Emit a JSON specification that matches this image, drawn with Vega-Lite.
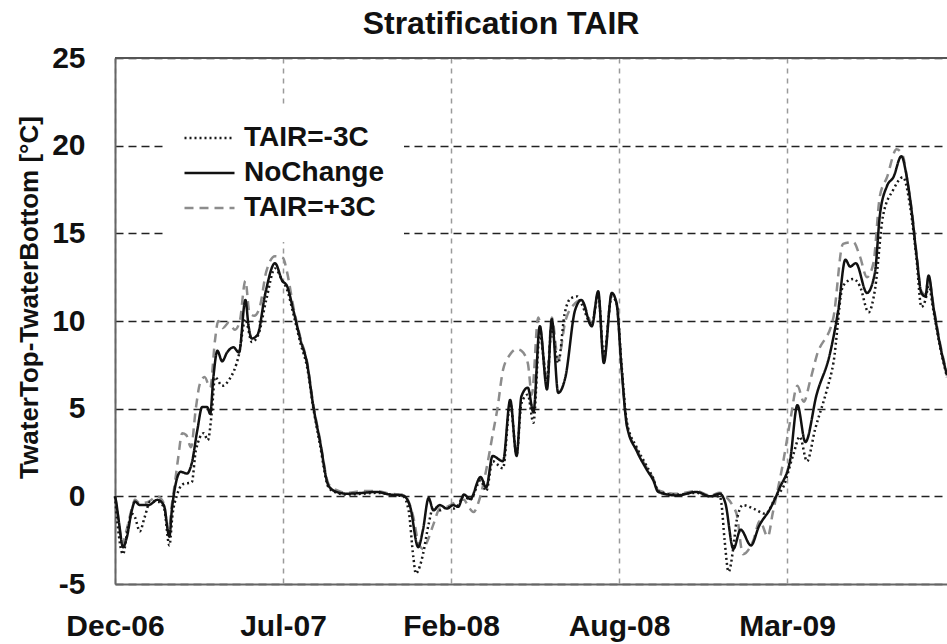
{
"$schema": "https://vega.github.io/schema/vega-lite/v6.json",
"width": 832,
"height": 526,
"autosize": {"type": "none"},
"padding": {"left": 115, "top": 58, "right": 0, "bottom": 60},
"background": "white",
"config": {"font": "Liberation Sans", "view": {"stroke": null}},
"title": {"text": "Stratification TAIR", "fontSize": 32, "fontWeight": "bold", "font": "Liberation Sans", "color": "#111111", "anchor": "middle", "frame": "group", "dx": -30, "offset": 2},
"data": {"values": [
{"date":"2006-12-10","series":"TAIR=+3C","value":0},
{"date":"2006-12-14","series":"TAIR=+3C","value":-1.2},
{"date":"2006-12-19","series":"TAIR=+3C","value":-2.7},
{"date":"2006-12-24","series":"TAIR=+3C","value":-2.0},
{"date":"2006-12-31","series":"TAIR=+3C","value":-0.7},
{"date":"2007-01-04","series":"TAIR=+3C","value":-0.2},
{"date":"2007-01-10","series":"TAIR=+3C","value":-0.4},
{"date":"2007-01-21","series":"TAIR=+3C","value":-0.3},
{"date":"2007-02-01","series":"TAIR=+3C","value":0.0},
{"date":"2007-02-09","series":"TAIR=+3C","value":-0.4},
{"date":"2007-02-15","series":"TAIR=+3C","value":-2.0},
{"date":"2007-02-19","series":"TAIR=+3C","value":-0.5},
{"date":"2007-02-23","series":"TAIR=+3C","value":0.8},
{"date":"2007-02-27","series":"TAIR=+3C","value":2.2},
{"date":"2007-03-04","series":"TAIR=+3C","value":3.6},
{"date":"2007-03-09","series":"TAIR=+3C","value":3.5},
{"date":"2007-03-15","series":"TAIR=+3C","value":2.8},
{"date":"2007-03-21","series":"TAIR=+3C","value":5.0},
{"date":"2007-03-26","series":"TAIR=+3C","value":6.4},
{"date":"2007-04-01","series":"TAIR=+3C","value":6.8},
{"date":"2007-04-08","series":"TAIR=+3C","value":6.2},
{"date":"2007-04-14","series":"TAIR=+3C","value":8.9},
{"date":"2007-04-18","series":"TAIR=+3C","value":10.0},
{"date":"2007-04-24","series":"TAIR=+3C","value":9.6},
{"date":"2007-05-01","series":"TAIR=+3C","value":9.9},
{"date":"2007-05-09","series":"TAIR=+3C","value":9.5},
{"date":"2007-05-15","series":"TAIR=+3C","value":10.0},
{"date":"2007-05-22","series":"TAIR=+3C","value":12.3},
{"date":"2007-05-27","series":"TAIR=+3C","value":10.5},
{"date":"2007-06-02","series":"TAIR=+3C","value":10.3},
{"date":"2007-06-09","series":"TAIR=+3C","value":10.8},
{"date":"2007-06-17","series":"TAIR=+3C","value":12.8},
{"date":"2007-06-28","series":"TAIR=+3C","value":13.7},
{"date":"2007-07-08","series":"TAIR=+3C","value":13.6},
{"date":"2007-07-13","series":"TAIR=+3C","value":12.8},
{"date":"2007-07-21","series":"TAIR=+3C","value":10.8},
{"date":"2007-07-30","series":"TAIR=+3C","value":9.0},
{"date":"2007-08-07","series":"TAIR=+3C","value":7.7},
{"date":"2007-08-15","series":"TAIR=+3C","value":5.2},
{"date":"2007-08-23","series":"TAIR=+3C","value":3.3},
{"date":"2007-09-03","series":"TAIR=+3C","value":0.7},
{"date":"2007-09-13","series":"TAIR=+3C","value":0.35},
{"date":"2007-09-26","series":"TAIR=+3C","value":0.2},
{"date":"2007-10-16","series":"TAIR=+3C","value":0.3},
{"date":"2007-11-02","series":"TAIR=+3C","value":0.3},
{"date":"2007-11-19","series":"TAIR=+3C","value":0.15},
{"date":"2007-12-05","series":"TAIR=+3C","value":0.1},
{"date":"2007-12-12","series":"TAIR=+3C","value":-0.3},
{"date":"2007-12-18","series":"TAIR=+3C","value":-1.2},
{"date":"2007-12-24","series":"TAIR=+3C","value":-2.6},
{"date":"2007-12-30","series":"TAIR=+3C","value":-3.0},
{"date":"2008-01-05","series":"TAIR=+3C","value":-2.5},
{"date":"2008-01-12","series":"TAIR=+3C","value":-1.6},
{"date":"2008-01-20","series":"TAIR=+3C","value":-0.7},
{"date":"2008-01-29","series":"TAIR=+3C","value":-0.6},
{"date":"2008-02-06","series":"TAIR=+3C","value":-0.4},
{"date":"2008-02-12","series":"TAIR=+3C","value":-0.2},
{"date":"2008-02-19","series":"TAIR=+3C","value":-0.2},
{"date":"2008-02-25","series":"TAIR=+3C","value":-0.6},
{"date":"2008-03-02","series":"TAIR=+3C","value":-0.9},
{"date":"2008-03-10","series":"TAIR=+3C","value":-0.1},
{"date":"2008-03-18","series":"TAIR=+3C","value":1.5},
{"date":"2008-03-26","series":"TAIR=+3C","value":3.5},
{"date":"2008-04-01","series":"TAIR=+3C","value":5.0},
{"date":"2008-04-08","series":"TAIR=+3C","value":7.2},
{"date":"2008-04-17","series":"TAIR=+3C","value":8.1},
{"date":"2008-04-25","series":"TAIR=+3C","value":8.4},
{"date":"2008-05-01","series":"TAIR=+3C","value":8.3},
{"date":"2008-05-09","series":"TAIR=+3C","value":7.6},
{"date":"2008-05-14","series":"TAIR=+3C","value":5.8},
{"date":"2008-05-22","series":"TAIR=+3C","value":10.2},
{"date":"2008-06-02","series":"TAIR=+3C","value":6.8},
{"date":"2008-06-08","series":"TAIR=+3C","value":10.2},
{"date":"2008-06-16","series":"TAIR=+3C","value":7.8},
{"date":"2008-06-25","series":"TAIR=+3C","value":10.0},
{"date":"2008-07-07","series":"TAIR=+3C","value":11.0},
{"date":"2008-07-15","series":"TAIR=+3C","value":11.2},
{"date":"2008-07-28","series":"TAIR=+3C","value":9.9},
{"date":"2008-08-05","series":"TAIR=+3C","value":11.6},
{"date":"2008-08-12","series":"TAIR=+3C","value":7.8},
{"date":"2008-08-22","series":"TAIR=+3C","value":11.6},
{"date":"2008-08-28","series":"TAIR=+3C","value":11.0},
{"date":"2008-09-03","series":"TAIR=+3C","value":7.5},
{"date":"2008-09-10","series":"TAIR=+3C","value":4.0},
{"date":"2008-09-22","series":"TAIR=+3C","value":2.7},
{"date":"2008-10-05","series":"TAIR=+3C","value":1.6},
{"date":"2008-10-13","series":"TAIR=+3C","value":1.0},
{"date":"2008-10-19","series":"TAIR=+3C","value":0.35},
{"date":"2008-11-11","series":"TAIR=+3C","value":0.15},
{"date":"2008-12-06","series":"TAIR=+3C","value":0.3},
{"date":"2008-12-23","series":"TAIR=+3C","value":0.05},
{"date":"2009-01-04","series":"TAIR=+3C","value":0.2},
{"date":"2009-01-11","series":"TAIR=+3C","value":0.0},
{"date":"2009-01-21","series":"TAIR=+3C","value":-0.6},
{"date":"2009-01-25","series":"TAIR=+3C","value":-1.0},
{"date":"2009-02-02","series":"TAIR=+3C","value":-3.3},
{"date":"2009-02-15","series":"TAIR=+3C","value":-2.5},
{"date":"2009-02-23","series":"TAIR=+3C","value":-1.4},
{"date":"2009-03-05","series":"TAIR=+3C","value":-2.3},
{"date":"2009-03-11","series":"TAIR=+3C","value":-1.0},
{"date":"2009-03-24","series":"TAIR=+3C","value":1.9},
{"date":"2009-04-02","series":"TAIR=+3C","value":4.3},
{"date":"2009-04-11","series":"TAIR=+3C","value":6.3},
{"date":"2009-04-19","series":"TAIR=+3C","value":5.4},
{"date":"2009-04-27","series":"TAIR=+3C","value":6.6},
{"date":"2009-05-05","series":"TAIR=+3C","value":8.0},
{"date":"2009-05-26","series":"TAIR=+3C","value":10.2},
{"date":"2009-06-07","series":"TAIR=+3C","value":14.4},
{"date":"2009-06-20","series":"TAIR=+3C","value":14.5},
{"date":"2009-06-28","series":"TAIR=+3C","value":13.7},
{"date":"2009-07-07","series":"TAIR=+3C","value":12.5},
{"date":"2009-07-15","series":"TAIR=+3C","value":13.3},
{"date":"2009-07-23","series":"TAIR=+3C","value":17.1},
{"date":"2009-08-01","series":"TAIR=+3C","value":18.2},
{"date":"2009-08-13","series":"TAIR=+3C","value":19.8},
{"date":"2009-08-21","series":"TAIR=+3C","value":19.4},
{"date":"2009-08-27","series":"TAIR=+3C","value":17.8},
{"date":"2009-09-01","series":"TAIR=+3C","value":16.3},
{"date":"2009-09-07","series":"TAIR=+3C","value":13.8},
{"date":"2009-09-13","series":"TAIR=+3C","value":11.7},
{"date":"2009-09-18","series":"TAIR=+3C","value":11.5},
{"date":"2009-09-22","series":"TAIR=+3C","value":12.5},
{"date":"2009-09-28","series":"TAIR=+3C","value":10.9},
{"date":"2009-10-06","series":"TAIR=+3C","value":8.8},
{"date":"2009-10-15","series":"TAIR=+3C","value":7.0},
{"date":"2006-12-10","series":"TAIR=-3C","value":0},
{"date":"2006-12-13","series":"TAIR=-3C","value":-1.5},
{"date":"2006-12-20","series":"TAIR=-3C","value":-3.3},
{"date":"2006-12-26","series":"TAIR=-3C","value":-1.8},
{"date":"2006-12-31","series":"TAIR=-3C","value":-1.0},
{"date":"2007-01-04","series":"TAIR=-3C","value":-1.2},
{"date":"2007-01-10","series":"TAIR=-3C","value":-2.0},
{"date":"2007-01-16","series":"TAIR=-3C","value":-1.2},
{"date":"2007-01-23","series":"TAIR=-3C","value":-0.3},
{"date":"2007-02-01","series":"TAIR=-3C","value":-0.3},
{"date":"2007-02-09","series":"TAIR=-3C","value":-0.6},
{"date":"2007-02-16","series":"TAIR=-3C","value":-2.8},
{"date":"2007-02-20","series":"TAIR=-3C","value":-1.0},
{"date":"2007-02-25","series":"TAIR=-3C","value":0.0},
{"date":"2007-03-05","series":"TAIR=-3C","value":0.7},
{"date":"2007-03-16","series":"TAIR=-3C","value":0.8},
{"date":"2007-03-21","series":"TAIR=-3C","value":2.6},
{"date":"2007-03-31","series":"TAIR=-3C","value":3.6},
{"date":"2007-04-05","series":"TAIR=-3C","value":3.2},
{"date":"2007-04-10","series":"TAIR=-3C","value":4.8},
{"date":"2007-04-14","series":"TAIR=-3C","value":6.8},
{"date":"2007-04-23","series":"TAIR=-3C","value":6.3},
{"date":"2007-05-01","series":"TAIR=-3C","value":6.6},
{"date":"2007-05-14","series":"TAIR=-3C","value":8.1},
{"date":"2007-05-22","series":"TAIR=-3C","value":10.1},
{"date":"2007-05-30","series":"TAIR=-3C","value":8.8},
{"date":"2007-06-07","series":"TAIR=-3C","value":9.2},
{"date":"2007-06-17","series":"TAIR=-3C","value":11.2},
{"date":"2007-06-28","series":"TAIR=-3C","value":13.0},
{"date":"2007-07-07","series":"TAIR=-3C","value":12.3},
{"date":"2007-07-13","series":"TAIR=-3C","value":11.8},
{"date":"2007-07-21","series":"TAIR=-3C","value":10.4},
{"date":"2007-07-30","series":"TAIR=-3C","value":8.7},
{"date":"2007-08-07","series":"TAIR=-3C","value":7.4},
{"date":"2007-08-15","series":"TAIR=-3C","value":5.0},
{"date":"2007-08-23","series":"TAIR=-3C","value":3.0},
{"date":"2007-09-03","series":"TAIR=-3C","value":0.5},
{"date":"2007-09-13","series":"TAIR=-3C","value":0.2},
{"date":"2007-09-26","series":"TAIR=-3C","value":0.1},
{"date":"2007-10-16","series":"TAIR=-3C","value":0.15},
{"date":"2007-11-02","series":"TAIR=-3C","value":0.2},
{"date":"2007-11-19","series":"TAIR=-3C","value":0.1},
{"date":"2007-12-05","series":"TAIR=-3C","value":0.0},
{"date":"2007-12-12","series":"TAIR=-3C","value":-0.8},
{"date":"2007-12-18","series":"TAIR=-3C","value":-3.5},
{"date":"2007-12-21","series":"TAIR=-3C","value":-4.4},
{"date":"2007-12-26","series":"TAIR=-3C","value":-4.0},
{"date":"2007-12-30","series":"TAIR=-3C","value":-3.3},
{"date":"2008-01-06","series":"TAIR=-3C","value":-1.6},
{"date":"2008-01-12","series":"TAIR=-3C","value":-0.6},
{"date":"2008-01-20","series":"TAIR=-3C","value":-0.8},
{"date":"2008-01-29","series":"TAIR=-3C","value":-0.6},
{"date":"2008-02-06","series":"TAIR=-3C","value":-0.7},
{"date":"2008-02-12","series":"TAIR=-3C","value":-0.5},
{"date":"2008-02-19","series":"TAIR=-3C","value":0.0},
{"date":"2008-02-27","series":"TAIR=-3C","value":-0.2},
{"date":"2008-03-11","series":"TAIR=-3C","value":0.9},
{"date":"2008-03-18","series":"TAIR=-3C","value":0.3},
{"date":"2008-03-26","series":"TAIR=-3C","value":2.0},
{"date":"2008-04-08","series":"TAIR=-3C","value":1.6},
{"date":"2008-04-17","series":"TAIR=-3C","value":5.3},
{"date":"2008-04-25","series":"TAIR=-3C","value":2.4},
{"date":"2008-05-01","series":"TAIR=-3C","value":5.3},
{"date":"2008-05-09","series":"TAIR=-3C","value":5.8},
{"date":"2008-05-16","series":"TAIR=-3C","value":4.2},
{"date":"2008-05-24","series":"TAIR=-3C","value":9.3},
{"date":"2008-06-02","series":"TAIR=-3C","value":6.5},
{"date":"2008-06-08","series":"TAIR=-3C","value":9.8},
{"date":"2008-06-12","series":"TAIR=-3C","value":8.5},
{"date":"2008-06-16","series":"TAIR=-3C","value":7.6},
{"date":"2008-06-24","series":"TAIR=-3C","value":10.4},
{"date":"2008-07-02","series":"TAIR=-3C","value":11.3},
{"date":"2008-07-10","series":"TAIR=-3C","value":11.4},
{"date":"2008-07-15","series":"TAIR=-3C","value":11.0},
{"date":"2008-07-28","series":"TAIR=-3C","value":9.8},
{"date":"2008-08-05","series":"TAIR=-3C","value":11.5},
{"date":"2008-08-12","series":"TAIR=-3C","value":8.0},
{"date":"2008-08-22","series":"TAIR=-3C","value":11.4},
{"date":"2008-08-28","series":"TAIR=-3C","value":11.0},
{"date":"2008-09-03","series":"TAIR=-3C","value":7.6},
{"date":"2008-09-10","series":"TAIR=-3C","value":4.2},
{"date":"2008-09-22","series":"TAIR=-3C","value":2.8},
{"date":"2008-10-05","series":"TAIR=-3C","value":1.7},
{"date":"2008-10-13","series":"TAIR=-3C","value":1.0},
{"date":"2008-10-19","series":"TAIR=-3C","value":0.3},
{"date":"2008-11-11","series":"TAIR=-3C","value":0.1},
{"date":"2008-12-06","series":"TAIR=-3C","value":0.2},
{"date":"2008-12-23","series":"TAIR=-3C","value":0.0},
{"date":"2009-01-04","series":"TAIR=-3C","value":0.0},
{"date":"2009-01-06","series":"TAIR=-3C","value":-0.4},
{"date":"2009-01-10","series":"TAIR=-3C","value":-2.5},
{"date":"2009-01-15","series":"TAIR=-3C","value":-4.3},
{"date":"2009-01-21","series":"TAIR=-3C","value":-2.9},
{"date":"2009-01-25","series":"TAIR=-3C","value":-1.4},
{"date":"2009-02-02","series":"TAIR=-3C","value":-0.5},
{"date":"2009-02-15","series":"TAIR=-3C","value":-0.7},
{"date":"2009-03-02","series":"TAIR=-3C","value":-1.0},
{"date":"2009-03-16","series":"TAIR=-3C","value":0.05},
{"date":"2009-03-24","series":"TAIR=-3C","value":0.5},
{"date":"2009-04-06","series":"TAIR=-3C","value":2.4},
{"date":"2009-04-14","series":"TAIR=-3C","value":3.4},
{"date":"2009-04-23","series":"TAIR=-3C","value":2.0},
{"date":"2009-05-03","series":"TAIR=-3C","value":3.8},
{"date":"2009-05-18","series":"TAIR=-3C","value":6.1},
{"date":"2009-05-26","series":"TAIR=-3C","value":7.6},
{"date":"2009-06-07","series":"TAIR=-3C","value":12.0},
{"date":"2009-06-20","series":"TAIR=-3C","value":12.4},
{"date":"2009-06-28","series":"TAIR=-3C","value":12.0},
{"date":"2009-07-09","series":"TAIR=-3C","value":10.5},
{"date":"2009-07-17","series":"TAIR=-3C","value":11.8},
{"date":"2009-07-27","series":"TAIR=-3C","value":16.0},
{"date":"2009-08-09","series":"TAIR=-3C","value":17.5},
{"date":"2009-08-21","series":"TAIR=-3C","value":18.2},
{"date":"2009-08-30","series":"TAIR=-3C","value":16.5},
{"date":"2009-09-07","series":"TAIR=-3C","value":13.5},
{"date":"2009-09-13","series":"TAIR=-3C","value":10.8},
{"date":"2009-09-18","series":"TAIR=-3C","value":11.2},
{"date":"2009-09-22","series":"TAIR=-3C","value":12.0},
{"date":"2009-09-28","series":"TAIR=-3C","value":10.6},
{"date":"2009-10-06","series":"TAIR=-3C","value":8.6},
{"date":"2009-10-15","series":"TAIR=-3C","value":6.8},
{"date":"2006-12-10","series":"NoChange","value":0},
{"date":"2006-12-11","series":"NoChange","value":-0.2},
{"date":"2006-12-15","series":"NoChange","value":-1.5},
{"date":"2006-12-20","series":"NoChange","value":-2.9},
{"date":"2006-12-25","series":"NoChange","value":-2.3},
{"date":"2006-12-31","series":"NoChange","value":-0.8},
{"date":"2007-01-04","series":"NoChange","value":-0.3},
{"date":"2007-01-10","series":"NoChange","value":-0.5},
{"date":"2007-01-21","series":"NoChange","value":-0.5},
{"date":"2007-02-01","series":"NoChange","value":-0.2},
{"date":"2007-02-09","series":"NoChange","value":-0.5},
{"date":"2007-02-16","series":"NoChange","value":-2.3},
{"date":"2007-02-19","series":"NoChange","value":-0.8},
{"date":"2007-02-23","series":"NoChange","value":0.5},
{"date":"2007-03-02","series":"NoChange","value":1.4},
{"date":"2007-03-10","series":"NoChange","value":1.3},
{"date":"2007-03-16","series":"NoChange","value":1.9},
{"date":"2007-03-23","series":"NoChange","value":3.8},
{"date":"2007-03-29","series":"NoChange","value":5.1},
{"date":"2007-04-04","series":"NoChange","value":5.1},
{"date":"2007-04-08","series":"NoChange","value":4.7},
{"date":"2007-04-12","series":"NoChange","value":6.8},
{"date":"2007-04-17","series":"NoChange","value":8.3},
{"date":"2007-04-23","series":"NoChange","value":7.7},
{"date":"2007-04-29","series":"NoChange","value":8.2},
{"date":"2007-05-07","series":"NoChange","value":8.5},
{"date":"2007-05-14","series":"NoChange","value":8.2},
{"date":"2007-05-22","series":"NoChange","value":11.2},
{"date":"2007-05-26","series":"NoChange","value":9.7},
{"date":"2007-05-30","series":"NoChange","value":9.0},
{"date":"2007-06-06","series":"NoChange","value":9.2},
{"date":"2007-06-16","series":"NoChange","value":11.6},
{"date":"2007-06-28","series":"NoChange","value":13.3},
{"date":"2007-07-07","series":"NoChange","value":12.3},
{"date":"2007-07-13","series":"NoChange","value":12.0},
{"date":"2007-07-21","series":"NoChange","value":10.6},
{"date":"2007-07-30","series":"NoChange","value":8.9},
{"date":"2007-08-07","series":"NoChange","value":7.6},
{"date":"2007-08-15","series":"NoChange","value":5.1},
{"date":"2007-08-23","series":"NoChange","value":3.2},
{"date":"2007-09-03","series":"NoChange","value":0.6},
{"date":"2007-09-13","series":"NoChange","value":0.25},
{"date":"2007-09-26","series":"NoChange","value":0.15},
{"date":"2007-10-16","series":"NoChange","value":0.2},
{"date":"2007-11-02","series":"NoChange","value":0.25},
{"date":"2007-11-19","series":"NoChange","value":0.1},
{"date":"2007-12-05","series":"NoChange","value":0.05},
{"date":"2007-12-14","series":"NoChange","value":-0.6},
{"date":"2007-12-24","series":"NoChange","value":-2.9},
{"date":"2007-12-30","series":"NoChange","value":-1.9},
{"date":"2008-01-06","series":"NoChange","value":-0.1},
{"date":"2008-01-12","series":"NoChange","value":-0.8},
{"date":"2008-01-20","series":"NoChange","value":-0.5},
{"date":"2008-01-29","series":"NoChange","value":-0.7},
{"date":"2008-02-06","series":"NoChange","value":-0.5},
{"date":"2008-02-12","series":"NoChange","value":-0.6},
{"date":"2008-02-19","series":"NoChange","value":0.1},
{"date":"2008-02-27","series":"NoChange","value":-0.15},
{"date":"2008-03-11","series":"NoChange","value":1.1},
{"date":"2008-03-18","series":"NoChange","value":0.5},
{"date":"2008-03-26","series":"NoChange","value":2.3},
{"date":"2008-04-08","series":"NoChange","value":2.0},
{"date":"2008-04-17","series":"NoChange","value":5.5},
{"date":"2008-04-25","series":"NoChange","value":2.3},
{"date":"2008-05-01","series":"NoChange","value":5.7},
{"date":"2008-05-09","series":"NoChange","value":6.2},
{"date":"2008-05-16","series":"NoChange","value":4.8},
{"date":"2008-05-24","series":"NoChange","value":9.7},
{"date":"2008-06-02","series":"NoChange","value":6.1},
{"date":"2008-06-08","series":"NoChange","value":10.1},
{"date":"2008-06-16","series":"NoChange","value":5.9},
{"date":"2008-06-25","series":"NoChange","value":6.8},
{"date":"2008-07-07","series":"NoChange","value":10.6},
{"date":"2008-07-15","series":"NoChange","value":11.2},
{"date":"2008-07-28","series":"NoChange","value":9.7},
{"date":"2008-08-05","series":"NoChange","value":11.7},
{"date":"2008-08-12","series":"NoChange","value":7.6},
{"date":"2008-08-22","series":"NoChange","value":11.6},
{"date":"2008-08-28","series":"NoChange","value":11.0},
{"date":"2008-09-03","series":"NoChange","value":7.4},
{"date":"2008-09-10","series":"NoChange","value":4.0},
{"date":"2008-09-22","series":"NoChange","value":2.6},
{"date":"2008-10-05","series":"NoChange","value":1.5},
{"date":"2008-10-13","series":"NoChange","value":0.9},
{"date":"2008-10-19","series":"NoChange","value":0.25},
{"date":"2008-11-11","series":"NoChange","value":0.05},
{"date":"2008-12-06","series":"NoChange","value":0.25},
{"date":"2008-12-23","series":"NoChange","value":0.0},
{"date":"2009-01-04","series":"NoChange","value":0.15},
{"date":"2009-01-11","series":"NoChange","value":-0.4},
{"date":"2009-01-21","series":"NoChange","value":-3.0},
{"date":"2009-01-30","series":"NoChange","value":-1.9},
{"date":"2009-02-12","series":"NoChange","value":-2.8},
{"date":"2009-02-22","series":"NoChange","value":-1.7},
{"date":"2009-03-08","series":"NoChange","value":-0.7},
{"date":"2009-03-20","series":"NoChange","value":0.5},
{"date":"2009-04-02","series":"NoChange","value":2.1},
{"date":"2009-04-11","series":"NoChange","value":5.2},
{"date":"2009-04-21","series":"NoChange","value":3.1},
{"date":"2009-05-05","series":"NoChange","value":5.8},
{"date":"2009-05-22","series":"NoChange","value":8.2},
{"date":"2009-06-01","series":"NoChange","value":10.6},
{"date":"2009-06-10","series":"NoChange","value":13.5},
{"date":"2009-06-16","series":"NoChange","value":13.1},
{"date":"2009-06-23","series":"NoChange","value":13.3},
{"date":"2009-07-07","series":"NoChange","value":11.6},
{"date":"2009-07-17","series":"NoChange","value":12.8},
{"date":"2009-07-23","series":"NoChange","value":16.0},
{"date":"2009-08-01","series":"NoChange","value":17.7},
{"date":"2009-08-09","series":"NoChange","value":18.2},
{"date":"2009-08-19","series":"NoChange","value":19.4},
{"date":"2009-08-25","series":"NoChange","value":18.4},
{"date":"2009-09-01","series":"NoChange","value":16.2},
{"date":"2009-09-07","series":"NoChange","value":13.7},
{"date":"2009-09-13","series":"NoChange","value":11.6},
{"date":"2009-09-18","series":"NoChange","value":11.4},
{"date":"2009-09-22","series":"NoChange","value":12.6},
{"date":"2009-09-28","series":"NoChange","value":10.8},
{"date":"2009-10-06","series":"NoChange","value":8.7},
{"date":"2009-10-15","series":"NoChange","value":6.9}
]},
"layer": [
{"mark": {"type": "line", "interpolate": "monotone", "strokeWidth": 2.5},
 "encoding": {
  "x": {"field": "date", "type": "temporal",
        "scale": {"type": "utc", "domain": [{"year": 2006, "month": 12, "date": 10, "utc": true}, {"year": 2009, "month": 10, "date": 15, "utc": true}]},
        "axis": {"title": null, "labelExpr": "utcFormat(datum.value, '%b-%y')",
                 "values": [{"year": 2006, "month": 12, "date": 10, "utc": true}, {"year": 2007, "month": 7, "date": 8, "utc": true}, {"year": 2008, "month": 2, "date": 3, "utc": true}, {"year": 2008, "month": 8, "date": 31, "utc": true}, {"year": 2009, "month": 3, "date": 29, "utc": true}],
                 "labelFontSize": 30, "labelFontWeight": "bold", "labelColor": "#111111", "labelPadding": 27,
                 "labelFlush": false, "labelOverlap": false, "ticks": false, "tickSize": 0,
                 "domainColor": "#666666", "domainWidth": 2,
                 "grid": true, "gridColor": "#9a9a9a", "gridDash": [5, 5], "gridWidth": 1.5}},
  "y": {"field": "value", "type": "quantitative",
        "scale": {"domain": [-5, 25], "nice": false, "zero": false},
        "axis": {"title": "TwaterTop-TwaterBottom [°C]", "values": [-5, 0, 5, 10, 15, 20, 25],
                 "labelExpr": "toString(datum.value)",
                 "labelFontSize": 30, "labelFontWeight": "bold", "labelColor": "#111111", "labelPadding": 30,
                 "ticks": false, "tickSize": 0, "domainColor": "#666666", "domainWidth": 2,
                 "grid": true, "gridColor": "#222222", "gridDash": [8, 5], "gridWidth": 1.5,
                 "titleFontSize": 26, "titleFontWeight": "bold", "titleColor": "#111111",
                 "titleX": -86, "titleY": 239, "titleAngle": 270, "titleBaseline": "middle", "titleAlign": "center"}},
  "color": {"field": "series", "type": "nominal",
            "scale": {"domain": ["TAIR=-3C", "NoChange", "TAIR=+3C"], "range": ["#1a1a1a", "#111111", "#8c8c8c"]},
            "legend": {"title": null, "orient": "none", "legendX": 48, "legendY": 46,
                       "labelFontSize": 28, "labelFontWeight": "bold", "labelColor": "#111111",
                       "symbolType": "stroke", "symbolSize": 2500, "symbolStrokeWidth": 2.5,
                       "clipHeight": 28, "rowPadding": 7, "labelOffset": 8, "padding": 20,
                       "fillColor": "white", "strokeColor": null}},
  "strokeDash": {"field": "series", "type": "nominal",
            "scale": {"domain": ["TAIR=-3C", "NoChange", "TAIR=+3C"], "range": [[2, 3], [1, 0], [9, 6]]},
            "legend": {"title": null, "orient": "none", "legendX": 48, "legendY": 46,
                       "labelFontSize": 28, "labelFontWeight": "bold", "labelColor": "#111111",
                       "symbolType": "stroke", "symbolSize": 2500, "symbolStrokeWidth": 2.5,
                       "clipHeight": 28, "rowPadding": 7, "labelOffset": 8, "padding": 20,
                       "fillColor": "white", "strokeColor": null}}
 }},
{"mark": {"type": "rule", "color": "#555555", "strokeWidth": 2},
 "encoding": {"y": {"datum": 25}}}
]
}
